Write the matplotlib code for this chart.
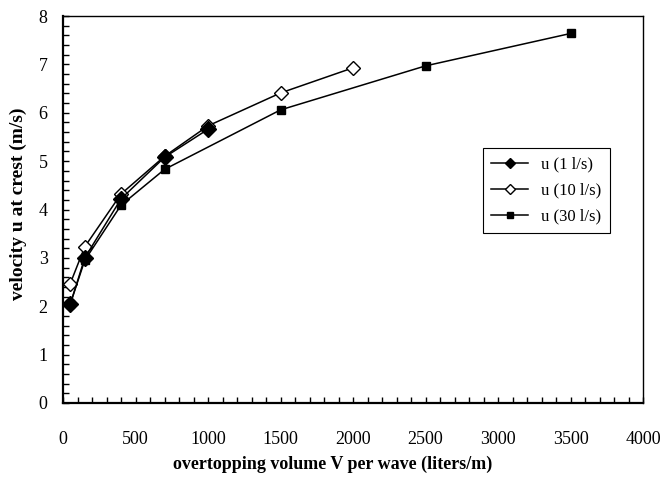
import matplotlib.pyplot as plt
from matplotlib.ticker import MultipleLocator

#### Data ####
v_1 = [50, 150, 400, 700, 1000]
u_1 = [2.04, 3.00, 4.22, 5.08, 5.66]

v_10 = [50, 150, 400, 700, 1000, 1500, 2000]
u_10 = [2.47, 3.23, 4.32, 5.10, 5.73, 6.41, 6.93]

v_30 = [50, 150, 400, 700, 1500, 2500, 3500]
u_30 = [2.05, 2.95, 4.09, 4.83, 6.06, 6.97, 7.64]

labels = ["u (1 l/s)", "u (10 l/s)", "u (30 l/s)"]

plt.rcParams["font.family"] = ["Liberation Serif", "DejaVu Serif"]

fig = plt.figure(figsize=(6.64, 4.87), dpi=100)
ax = fig.add_axes([0.0949, 0.1725, 0.8735, 0.7945])

ax.plot(v_1, u_1, color="black", lw=1.1, marker="D", ms=8, mfc="black", mec="black", label=labels[0], zorder=4)
ax.plot(v_10, u_10, color="black", lw=1.1, marker="D", ms=7, mfc="white", mec="black", mew=1.0, label=labels[1], zorder=3)
ax.plot(v_30, u_30, color="black", lw=1.1, marker="s", ms=5.5, mfc="black", mec="black", label=labels[2], zorder=2)

ax.set_xlim(0, 4000)
ax.set_ylim(0, 8)
ax.xaxis.set_major_locator(MultipleLocator(500))
ax.xaxis.set_minor_locator(MultipleLocator(100))
ax.yaxis.set_major_locator(MultipleLocator(1))
ax.yaxis.set_minor_locator(MultipleLocator(0.2))
ax.tick_params(which="both", direction="in", top=False, right=False, labelsize=13, width=1)
ax.tick_params(which="major", length=4)
ax.tick_params(which="minor", length=4)
ax.tick_params(axis="x", which="major", pad=20)
ax.tick_params(axis="y", which="major", pad=11)
for s in ax.spines.values():
    s.set_linewidth(1)
ax.spines["left"].set_linewidth(1.6)
ax.spines["bottom"].set_linewidth(1.6)

ax.set_xlabel("overtopping volume V per wave (liters/m)", fontsize=13, fontweight="bold", labelpad=6)
ax.set_ylabel("velocity u at crest (m/s)", fontsize=14, fontweight="bold", labelpad=8)
ax.xaxis.label.set_x(0.464)
ax.yaxis.label.set_y(0.514)

leg = ax.legend(loc="upper left", bbox_to_anchor=(0.724, 0.659), borderaxespad=0,
                fontsize=12, fancybox=False, edgecolor="black", framealpha=1,
                handlelength=2.2, markerscale=0.7, labelspacing=0.6, borderpad=0.5)
leg.get_frame().set_linewidth(0.8)

fig.savefig("out.png", dpi=100)
